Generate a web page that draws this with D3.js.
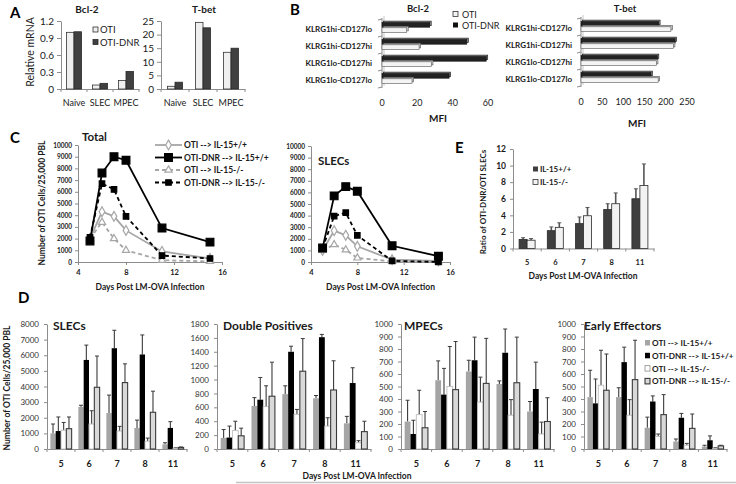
<!DOCTYPE html>
<html><head><meta charset="utf-8">
<script src="https://cdn.jsdelivr.net/npm/d3@7"></script>
<style>body{margin:0;background:#fff}svg{display:block;font-family:Lato,"Open Sans",sans-serif}</style>
</head><body><svg id="c" width="736" height="484"></svg>
<script>
// ---------- DATA ----------
const aCats = ["Naive", "SLEC", "MPEC"];
const aBcl2OTI = [1.0, 0.07, 0.15];
const aBcl2DNR = [1.01, 0.10, 0.31];
const aTbetOTI = [1.0, 24.5, 13.5];
const aTbetDNR = [2.5, 22.5, 15.0];
const aBcl2Ticks = [0, 0.3, 0.6, 0.9, 1.2];
const aTbetTicks = [0, 5, 10, 15, 20, 25];

const bCats = ["KLRG1hi-CD127lo", "KLRG1hi-CD127hi", "KLRG1lo-CD127hi", "KLRG1lo-CD127lo"];
const bBcl2OTI = [14, 21, 28, 17];
const bBcl2DNR = [27, 48, 59, 38];
const bTbetOTI = [212, 218, 178, 182];
const bTbetDNR = [183, 222, 180, 165];
const bBcl2Ticks = [0, 20, 40, 60];
const bTbetTicks = [0, 50, 100, 150, 200, 250];

const cDays = [5, 6, 7, 8, 11, 15];
const cTotOTIwt = [2000, 4300, 3900, 2700, 900, 300];
const cTotDNRwt = [1800, 7600, 9000, 8700, 2900, 1700];
const cTotOTIko = [2000, 3400, 2000, 1000, 150, 50];
const cTotDNRko = [2100, 6700, 6200, 3900, 550, 300];
const cSlecOTIwt = [1000, 2700, 2300, 1350, 200, 100];
const cSlecDNRwt = [1200, 5700, 6500, 6100, 1400, 500];
const cSlecOTIko = [1000, 1500, 1050, 350, 50, 20];
const cSlecDNRko = [1200, 3950, 4250, 2300, 100, 0];
const cXTicks = [4, 8, 12, 16];
const cYTicks = [0, 1000, 2000, 3000, 4000, 5000, 6000, 7000, 8000, 9000, 10000];

const eDays = ["5", "6", "7", "8", "11"];
const eWT = [1.1, 2.15, 3.0, 4.7, 6.0];
const eWTErr = [0.2, 0.45, 0.8, 0.7, 1.2];
const eKO = [1.0, 2.55, 3.95, 5.4, 7.6];
const eKOErr = [0.2, 0.55, 1.0, 1.3, 2.6];
const eTicks = [0, 2, 4, 6, 8, 10, 12];

const dDays = ["5", "6", "7", "8", "11"];
const seriesNames = ["OTI --> IL-15+/+", "OTI-DNR --> IL-15+/+", "OTI --> IL-15-/-", "OTI-DNR --> IL-15-/-"];
const dSlecVals = [[1000, 2700, 2300, 1350, 300], [1150, 5700, 6450, 6050, 1350], [1200, 1600, 1150, 500, 50], [1300, 3950, 4250, 2350, 100]];
const dSlecErrs = [[600, 100, 1150, 500, 100], [900, 950, 1150, 1250, 400], [500, 850, 300, 200, 30], [750, 2000, 1200, 1350, 30]];
const dDpVals = [[160, 620, 790, 730, 370], [165, 710, 1400, 1610, 950], [265, 610, 500, 330, 90], [190, 760, 1120, 850, 250]];
const dDpErrs = [[120, 120, 120, 40, 100], [165, 320, 80, 40, 220], [135, 300, 70, 120, 30], [110, 490, 470, 420, 150]];
const dMpecVals = [[220, 550, 620, 520, 300], [120, 435, 710, 770, 480], [275, 500, 375, 270, 120], [170, 475, 525, 530, 220]];
const dMpecErrs = [[170, 155, 90, 25, 80], [110, 210, 185, 190, 215], [195, 320, 200, 125, 95], [130, 385, 360, 365, 190]];
const dEeVals = [[415, 415, 170, 60, 20], [365, 695, 380, 250, 70], [510, 270, 100, 30, 5], [470, 555, 275, 165, 25]];
const dEeErrs = [[215, 75, 85, 20, 10], [195, 120, 45, 35, 35], [280, 125, 20, 15, 5], [290, 315, 160, 115, 5]];

// ---------- HELPERS ----------
const FF = "Lato, 'Open Sans', sans-serif";
const svg = d3.select("#c");
const AX = "#8c8c8c";
function T(x, y, s, o = {}) {
  const t = svg.append("text").attr("x", x).attr("y", y).text(s)
    .attr("font-size", o.fs || 9).attr("font-weight", o.b ? "bold" : "normal")
    .attr("text-anchor", o.a || "start").attr("fill", o.c || "#1a1a1a")
    .attr("dominant-baseline", "central");
  if (o.r) t.attr("transform", `rotate(-90,${x},${y})`);
  return t;
}
function sty(g, fs, b, c) {
  g.select(".domain").attr("stroke", AX);
  g.selectAll(".tick line").attr("stroke", AX);
  g.selectAll(".tick text").attr("font-size", fs).attr("font-weight", b ? "bold" : "normal")
    .attr("fill", c || "#1a1a1a").attr("font-family", FF);
  return g;
}
function catTicks(g, x, y0, len) {
  const r = x.range(), n = x.domain().length;
  g.append("g").selectAll("line").data(d3.range(n + 1)).join("line")
    .attr("x1", i => r[0] + i * x.step()).attr("x2", i => r[0] + i * x.step())
    .attr("y1", y0).attr("y2", y0 + len).attr("stroke", AX);
}
function errBar(g, cx, yTop, yErr, col, w) {
  g.append("line").attr("x1", cx).attr("x2", cx).attr("y1", yTop).attr("y2", yErr).attr("stroke", col).attr("stroke-width", w || 1);
  g.append("line").attr("x1", cx - 2).attr("x2", cx + 2).attr("y1", yErr).attr("y2", yErr).attr("stroke", col).attr("stroke-width", 1);
}

// ---------- PANEL LETTERS ----------
[["A", 10, 12], ["B", 290, 9], ["C", 10, 137], ["D", 18, 297], ["E", 455, 147]].forEach(([s, x, y]) =>
  T(x, y, s, { fs: 15, b: true, c: "#000" }));

// ---------- PANEL A ----------
function pA(o) {
  const g = svg.append("g");
  const x = d3.scaleBand().domain(aCats).range(o.xr);
  const y = d3.scaleLinear().domain([0, o.max]).range(o.yr);
  sty(g.append("g").attr("transform", `translate(${o.xr[0]},0)`)
    .call(d3.axisLeft(y).tickValues(o.ticks).tickFormat(o.fmt).tickSize(4).tickSizeOuter(0).tickPadding(3)), 10, false);
  sty(g.append("g").attr("transform", `translate(0,${o.yr[0]})`)
    .call(d3.axisBottom(x).tickSize(0).tickSizeOuter(0).tickPadding(11)), 9, false);
  catTicks(g, x, o.yr[0], 3);
  const bw = 7.5;
  aCats.forEach((c, i) => {
    const cx = x(c) + x.bandwidth() / 2;
    g.append("rect").attr("x", cx - bw).attr("y", y(o.v1[i])).attr("width", bw).attr("height", y(0) - y(o.v1[i]))
      .attr("fill", "#efefef").attr("stroke", "#333").attr("stroke-width", 0.8);
    g.append("rect").attr("x", cx).attr("y", y(o.v2[i])).attr("width", bw).attr("height", y(0) - y(o.v2[i]))
      .attr("fill", "#404040").attr("stroke", "#2a2a2a").attr("stroke-width", 0.8);
  });
  T(o.tx, 9, o.title, { fs: 10, b: true, a: "middle" });
}
pA({ xr: [61, 139], yr: [89, 21], max: 1.2, ticks: aBcl2Ticks, fmt: d => d === 0 ? "0" : d3.format(".1f")(d), v1: aBcl2OTI, v2: aBcl2DNR, title: "Bcl-2", tx: 87 });
pA({ xr: [161, 245], yr: [89, 21], max: 25, ticks: aTbetTicks, fmt: d3.format("d"), v1: aTbetOTI, v2: aTbetDNR, title: "T-bet", tx: 204 });
T(30, 52, "Relative mRNA", { fs: 10.5, a: "middle", r: true });
svg.append("rect").attr("x", 93).attr("y", 27).attr("width", 5).attr("height", 5).attr("fill", "#efefef").attr("stroke", "#333").attr("stroke-width", 0.8);
T(100, 29.5, "OTI", { fs: 9.5 });
svg.append("rect").attr("x", 93).attr("y", 39.5).attr("width", 5).attr("height", 5).attr("fill", "#404040").attr("stroke", "#2a2a2a").attr("stroke-width", 0.8);
T(100, 42, "OTI-DNR", { fs: 9.5 });

// ---------- PANEL B ----------
function pB(o) {
  const g = svg.append("g");
  const x = d3.scaleLinear().domain([0, o.max]).range(o.xr);
  const y = d3.scaleBand().domain(bCats).range(o.yr);
  g.append("line").attr("x1", o.xr[0]).attr("x2", o.xr[0]).attr("y1", o.yr[0] - 1).attr("y2", o.yr[1] + 1).attr("stroke", AX);
  g.append("line").attr("x1", o.xr[0] + 2).attr("x2", o.xr[0] + 2).attr("y1", o.yr[0] - 3).attr("y2", o.yr[1] - 1).attr("stroke", "#c8c8c8");
  d3.range(bCats.length + 1).forEach(i => {
    const yy = o.yr[0] + i * y.step();
    g.append("line").attr("x1", o.xr[0] - 4).attr("x2", o.xr[0]).attr("y1", yy + 1).attr("y2", yy).attr("stroke", AX);
  });
  o.ticks.forEach(t => T(x(t), o.yr[1] + 15, String(t), { fs: 9, a: "middle" }));
  const bh = 4.6;
  bCats.forEach((c, i) => {
    const cy = y(c) + y.step() / 2;
    T(o.lx, cy + 1.5, c, { fs: 8, b: true, a: "end" });
    [[o.dnr[i], cy - bh - 0.3, "#222", "#8a8a8a", "#111"], [o.oti[i], cy + 0.3, "#f4f4f4", "#c9c9c9", "#555"]].forEach(([v, yy, f, f2, s]) => {
      const w = x(v) - x(0);
      g.append("rect").attr("x", x(0) + 1.5).attr("y", yy - 1.5).attr("width", w).attr("height", bh).attr("fill", f2).attr("stroke", s).attr("stroke-width", 0.6);
      g.append("rect").attr("x", x(0)).attr("y", yy).attr("width", w).attr("height", bh).attr("fill", f).attr("stroke", s).attr("stroke-width", 0.6);
    });
  });
  T(o.tx, 8, o.title, { fs: 9.5, b: true, a: "middle" });
  T(o.mx, o.my, "MFI", { fs: 10, b: true, a: "middle" });
}
pB({ xr: [382, 488], yr: [19, 87], max: 60, ticks: bBcl2Ticks, oti: bBcl2OTI, dnr: bBcl2DNR, lx: 372, title: "Bcl-2", tx: 418, mx: 438, my: 118 });
pB({ xr: [581, 687], yr: [18, 86], max: 250, ticks: bTbetTicks, oti: bTbetOTI, dnr: bTbetDNR, lx: 572, title: "T-bet", tx: 625, mx: 637, my: 123 });
svg.append("rect").attr("x", 453).attr("y", 11.5).attr("width", 5).attr("height", 5).attr("fill", "#f4f4f4").attr("stroke", "#333").attr("stroke-width", 0.8);
T(462, 14.5, "OTI", { fs: 9 });
svg.append("rect").attr("x", 453).attr("y", 22.5).attr("width", 5).attr("height", 5).attr("fill", "#111");
T(462, 25, "OTI-DNR", { fs: 9 });

// ---------- PANEL C ----------
const cStyles = [
  { col: "#a6a6a6", dash: null, sym: d3.symbolDiamond, size: 28, fill: "#fff" },
  { col: "#000", dash: null, sym: d3.symbolSquare, size: 60, fill: "#000" },
  { col: "#a6a6a6", dash: "4,3", sym: d3.symbolTriangle, size: 22, fill: "#fff" },
  { col: "#000", dash: "4,3", sym: d3.symbolSquare, size: 30, fill: "#000" }
];
function pC(o) {
  const g = svg.append("g");
  const x = d3.scaleLinear().domain([4, 16]).range(o.xr);
  const y = d3.scaleLinear().domain([0, 10000]).range(o.yr);
  sty(g.append("g").attr("transform", `translate(${o.xr[0]},0)`)
    .call(d3.axisLeft(y).tickValues(cYTicks).tickSize(3).tickSizeOuter(0).tickPadding(3).tickFormat(d3.format("d"))), 6.5, true);
  sty(g.append("g").attr("transform", `translate(0,${o.yr[0]})`)
    .call(d3.axisBottom(x).tickValues(cXTicks).tickSize(3).tickSizeOuter(0).tickPadding(5).tickFormat(d3.format("d"))), 7.5, true);
  const line = d3.line().x((d, i) => x(cDays[i])).y(d => y(d));
  [0, 2, 3, 1].forEach(k => {
    const s = cStyles[k], vals = o.series[k];
    g.append("path").attr("d", line(vals)).attr("fill", "none").attr("stroke", s.col).attr("stroke-width", 1.8)
      .attr("stroke-dasharray", s.dash);
    g.selectAll(null).data(vals).join("path").attr("d", d3.symbol(s.sym, s.size))
      .attr("transform", (d, i) => `translate(${x(cDays[i])},${y(d)})`)
      .attr("fill", s.fill).attr("stroke", s.col).attr("stroke-width", 1.2);
  });
  T(o.tx, o.ty, o.title, { fs: 11.5, b: true });
  T((o.xr[0] + o.xr[1]) / 2, 287, "Days Post LM-OVA Infection", { fs: 8.5, b: true, a: "middle" });
}
pC({ xr: [78, 222], yr: [262, 145], series: [cTotOTIwt, cTotDNRwt, cTotOTIko, cTotDNRko], title: "Total", tx: 82, ty: 136 });
pC({ xr: [311, 450], yr: [262, 146], series: [cSlecOTIwt, cSlecDNRwt, cSlecOTIko, cSlecDNRko], title: "SLECs", tx: 318, ty: 160 });
T(42, 203, "Number of OTI Cells/25,000 PBL", { fs: 8.5, b: true, a: "middle", r: true });
seriesNames.forEach((n, k) => {
  const s = cStyles[k], yy = 145 + k * 12.5;
  svg.append("line").attr("x1", 155).attr("x2", 182).attr("y1", yy).attr("y2", yy).attr("stroke", s.col).attr("stroke-width", 1.8).attr("stroke-dasharray", s.dash);
  svg.append("path").attr("d", d3.symbol(s.sym, s.size)()).attr("transform", `translate(168.5,${yy})`)
    .attr("fill", s.fill).attr("stroke", s.col).attr("stroke-width", 1.2);
  T(184, yy, n, { fs: 8.5, b: true });
});

// ---------- PANEL E ----------
(function () {
  const g = svg.append("g");
  const x = d3.scaleBand().domain(eDays).range([513, 654]);
  const y = d3.scaleLinear().domain([0, 12]).range([248.5, 149]);
  sty(g.append("g").attr("transform", "translate(513,0)")
    .call(d3.axisLeft(y).tickValues(eTicks).tickSize(3).tickSizeOuter(0).tickPadding(4)), 8.5, true);
  sty(g.append("g").attr("transform", "translate(0,248.5)")
    .call(d3.axisBottom(x).tickSize(0).tickSizeOuter(0).tickPadding(11)), 7.5, true);
  catTicks(g, x, 248.5, 3);
  const bw = 8;
  eDays.forEach((d, i) => {
    const cx = x(d) + x.bandwidth() / 2;
    [[eWT[i], eWTErr[i], cx - bw, "#3f3f3f"], [eKO[i], eKOErr[i], cx, "#f2f2f2"]].forEach(([v, e, bx, f]) => {
      errBar(g, bx + bw / 2, y(v), y(v + e), "#555", 1.6);
      g.append("rect").attr("x", bx).attr("y", y(v)).attr("width", bw).attr("height", y(0) - y(v))
        .attr("fill", f).attr("stroke", "#2a2a2a").attr("stroke-width", 0.8);
    });
  });
  T(583, 276, "Days Post LM-OVA Infection", { fs: 8.5, b: true, a: "middle" });
  T(483, 202, "Ratio of OTI-DNR/OTI SLECs", { fs: 8, b: true, a: "middle", r: true });
  svg.append("rect").attr("x", 533).attr("y", 166.5).attr("width", 5).attr("height", 5).attr("fill", "#3f3f3f");
  T(540, 169, "IL-15+/+", { fs: 8, b: true });
  svg.append("rect").attr("x", 533).attr("y", 179.5).attr("width", 5).attr("height", 5).attr("fill", "#f2f2f2").attr("stroke", "#333").attr("stroke-width", 0.8);
  T(540, 182, "IL-15-/-", { fs: 8, b: true });
})();

// ---------- PANEL D ----------
const dStyles = [
  { fill: "#a5a5a5", stroke: "none", sw: 0 },
  { fill: "#000", stroke: "none", sw: 0 },
  { fill: "#fff", stroke: "#bdbdbd", sw: 0.9 },
  { fill: "#d9d9d9", stroke: "#3a3a3a", sw: 1.1 }
];
function pD(o) {
  const g = svg.append("g");
  const x = d3.scaleBand().domain(dDays).range(o.xr);
  const y = d3.scaleLinear().domain([0, o.max]).range([449, 324]);
  sty(g.append("g").attr("transform", `translate(${o.xr[0]},0)`)
    .call(d3.axisLeft(y).tickValues(d3.range(0, o.max + 1, o.step)).tickFormat(d3.format("d")).tickSize(3).tickSizeOuter(0).tickPadding(5)), 8, false, "#333");
  sty(g.append("g").attr("transform", "translate(0,449)")
    .call(d3.axisBottom(x).tickSize(0).tickSizeOuter(0).tickPadding(12)), 9, true);
  catTicks(g, x, 449, 3);
  const gw = x.step() * 0.76, bw = gw / 4;
  dDays.forEach((d, i) => {
    const x0 = x(d) + (x.step() - gw) / 2;
    o.vals.forEach((ser, k) => {
      const v = ser[i], e = o.errs[k][i], s = dStyles[k], bx = x0 + k * bw;
      errBar(g, bx + bw / 2, y(v), y(v + e), "#3a3a3a", 1.1);
      g.append("rect").attr("x", bx).attr("y", y(v)).attr("width", bw).attr("height", y(0) - y(v))
        .attr("fill", s.fill).attr("stroke", s.stroke).attr("stroke-width", s.sw);
    });
  });
  T(o.tx, 325, o.title, { fs: 12, b: true });
}
pD({ xr: [47, 187], max: 8000, step: 1000, vals: dSlecVals, errs: dSlecErrs, title: "SLECs", tx: 53 });
pD({ xr: [217, 371], max: 1800, step: 200, vals: dDpVals, errs: dDpErrs, title: "Double Positives", tx: 223 });
pD({ xr: [401, 554], max: 1000, step: 100, vals: dMpecVals, errs: dMpecErrs, title: "MPECs", tx: 404 });
pD({ xr: [584, 727], max: 1000, step: 100, vals: dEeVals, errs: dEeErrs, title: "Early Effectors", tx: 584 });
T(7, 388, "Number of OTI Cells/25,000 PBL", { fs: 8.5, b: true, a: "middle", r: true });
seriesNames.forEach((n, k) => {
  const s = dStyles[k], yy = 343 + k * 12.8;
  svg.append("rect").attr("x", 645).attr("y", yy - 3).attr("width", 5).attr("height", 5.5)
    .attr("fill", s.fill).attr("stroke", k === 2 ? "#999" : s.stroke).attr("stroke-width", s.sw);
  T(652, yy, n, { fs: 8.2, b: true });
});
T(357, 476, "Days Post LM-OVA Infection", { fs: 8.5, b: true, a: "middle" });
svg.append("line").attr("x1", 236).attr("x2", 736).attr("y1", 482.5).attr("y2", 482.5).attr("stroke", "#c4c4c4").attr("stroke-width", 1.5);
</script></body></html>
